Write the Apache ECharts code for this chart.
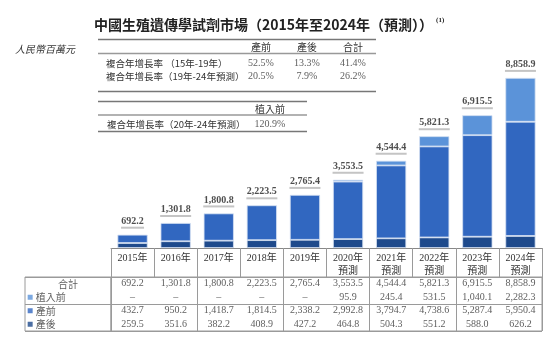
<!DOCTYPE html>
<html><head><meta charset="utf-8">
<script src="https://cdn.jsdelivr.net/npm/echarts@6/dist/echarts.min.js"></script>
<style>html,body{margin:0;padding:0;background:#fff}#c{width:554px;height:343px}</style>
</head><body><div id="c"></div>
<script>
const years = ['2015年','2016年','2017年','2018年','2019年','2020年\n預測','2021年\n預測','2022年\n預測','2023年\n預測','2024年\n預測'];
const preImplant = [null,null,null,null,null,95.9,245.4,531.5,1040.1,2282.3];
const prenatal = [432.7,950.2,1418.7,1814.5,2338.2,2992.8,3794.7,4738.6,5287.4,5950.4];
const postnatal = [259.5,351.6,382.2,408.9,427.2,464.8,504.3,551.2,588.0,626.2];
const totals = [692.2,1301.8,1800.8,2223.5,2765.4,3553.5,4544.4,5821.3,6915.5,8858.9];
const rowLabels = ['合計','植入前','產前','產後'];
const cagrCols = ['產前','產後','合計'];
const cagrRows = ['複合年增長率 （15年-19年）','複合年增長率（19年-24年預測）'];
const cagrVals = [[52.5,13.3,41.4],[20.5,7.9,26.2]];
const cagr2Cols = ['植入前'];
const cagr2Rows = ['複合年增長率（20年-24年預測）'];
const cagr2Vals = [[120.9]];

const C_PRE = '#5b93d9', C_PRN = '#3167c0', C_POST = '#1e4a8c';
const SERIF = "'Liberation Serif','Noto Sans CJK TC',serif";
const CJK = "'Noto Sans CJK TC',sans-serif";
const LINE = '#9a9a9a';

function fmt(v){
  if (v == null) return '–';
  const s = v.toFixed(1).split('.');
  return s[0].replace(/\B(?=(\d{3})+(?!\d))/g, ',') + '.' + s[1];
}

const tableRows = [totals, preImplant, prenatal, postnatal];
const cellData = [];
tableRows.forEach((row, r) => row.forEach((v, c) => cellData.push([c, r, fmt(v)])));

const labelColors = [null, C_PRE, C_PRN, C_POST];
const labelData = rowLabels.map((t, r) => r === 0
  ? { value: [0.5, r, t], symbolSize: 0, label: { position: 'inside' } }
  : { value: [0.06, r, t], symbolSize: 5, symbol: 'rect', itemStyle: { color: labelColors[r] }, label: { position: 'right', distance: 3 } });

const cagrData = [];
cagrVals.forEach((row, r) => row.forEach((v, c) => cagrData.push([c, r, v.toFixed(1) + '%'])));
const cagr2Data = [];
cagr2Vals.forEach((row, r) => row.forEach((v, c) => cagr2Data.push([c, r, v.toFixed(1) + '%'])));

const chart = echarts.init(document.getElementById('c'));
const tableAxisBase = {
  axisLine: { show: false }, axisTick: { show: false }, axisLabel: { show: false },
  splitLine: { show: true, lineStyle: { color: LINE, width: 1 } }
};
const hiddenBase = { axisLine: { show: false }, axisTick: { show: false }, splitLine: { show: false } };

chart.setOption({
  animation: false,
  backgroundColor: '#fff',
  title: [
    { text: '中國生殖遺傳學試劑市場（2015年至2024年（預測））{s|(1)}', left: 89, top: 12,
      textStyle: { fontFamily: CJK, fontSize: 14, fontWeight: 'bold', color: '#222',
        rich: { s: { fontSize: 7, fontFamily: SERIF, verticalAlign: 'top', padding: [0,0,8,3], color: '#222' } } } },
    { text: '人民幣百萬元', left: 10, top: 39,
      textStyle: { fontFamily: CJK, fontSize: 10, fontStyle: 'italic', fontWeight: 'normal', color: '#333' } }
  ],
  graphic: [
    { type: 'line', shape: { x1: 98, y1: 39.5, x2: 376, y2: 39.5 }, style: { stroke: '#777', lineWidth: 1.5 } },
    { type: 'line', shape: { x1: 98, y1: 53.5, x2: 376, y2: 53.5 }, style: { stroke: '#999', lineWidth: 1.5 } },
    { type: 'line', shape: { x1: 98, y1: 91.5, x2: 376, y2: 91.5 }, style: { stroke: '#777', lineWidth: 1.5 } },
    { type: 'line', shape: { x1: 98, y1: 101.5, x2: 307, y2: 101.5 }, style: { stroke: '#777', lineWidth: 1.5 } },
    { type: 'line', shape: { x1: 98, y1: 115, x2: 307, y2: 115 }, style: { stroke: '#999', lineWidth: 1.5 } },
    { type: 'line', shape: { x1: 98, y1: 131.5, x2: 307, y2: 131.5 }, style: { stroke: '#777', lineWidth: 1.5 } }
  ],
  grid: [
    { left: 111, right: 12, top: 56, height: 192 },
    { left: 111, right: 12, top: 277, height: 54, show: true, borderColor: LINE, borderWidth: 1 },
    { left: 25, width: 86, top: 277, height: 54, show: true, borderColor: LINE, borderWidth: 1 },
    { left: 238, width: 138, top: 57, height: 26 },
    { left: 247, width: 46, top: 118, height: 13 }
  ],
  xAxis: [
    { gridIndex: 0, type: 'category', data: years,
      axisLine: { lineStyle: { color: '#888', width: 1 } },
      axisTick: { show: true, length: 29, interval: 0, lineStyle: { color: LINE } },
      axisLabel: { interval: 0, margin: 4, fontFamily: SERIF, fontSize: 10, color: '#333', lineHeight: 13 } },
    Object.assign({ gridIndex: 1, type: 'category', data: years }, tableAxisBase),
    Object.assign({ gridIndex: 2, type: 'value', min: 0, max: 1 }, hiddenBase, { axisLabel: { show: false } }),
    { gridIndex: 3, type: 'category', data: cagrCols, position: 'top', axisLine: { show: false }, axisTick: { show: false },
      axisLabel: { margin: 5, fontFamily: CJK, fontSize: 10, color: '#333' } },
    { gridIndex: 4, type: 'category', data: cagr2Cols, position: 'top', axisLine: { show: false }, axisTick: { show: false },
      axisLabel: { margin: 4, fontFamily: CJK, fontSize: 10, color: '#333' } }
  ],
  yAxis: [
    { gridIndex: 0, type: 'value', min: 0, max: 10000, show: false },
    Object.assign({ gridIndex: 1, type: 'category', data: rowLabels, inverse: true }, tableAxisBase),
    Object.assign({ gridIndex: 2, type: 'category', data: rowLabels, inverse: true }, tableAxisBase),
    { gridIndex: 3, type: 'category', data: cagrRows, inverse: true, axisLine: { show: false }, axisTick: { show: false },
      axisLabel: { align: 'left', margin: 132, fontFamily: CJK, fontSize: 9.5, color: '#333' } },
    { gridIndex: 4, type: 'category', data: cagr2Rows, inverse: true, axisLine: { show: false }, axisTick: { show: false },
      axisLabel: { align: 'left', margin: 140, fontFamily: CJK, fontSize: 9.5, color: '#333' } }
  ],
  series: [
    { name: '產後', type: 'bar', stack: 't', data: postnatal, barWidth: '70%',
      itemStyle: { color: C_POST, borderColor: '#d5e1f3', borderWidth: 0.8 } },
    { name: '產前', type: 'bar', stack: 't', data: prenatal,
      itemStyle: { color: C_PRN, borderColor: '#d5e1f3', borderWidth: 0.8 } },
    { name: '植入前', type: 'bar', stack: 't', data: preImplant,
      itemStyle: { color: C_PRE, borderColor: '#d5e1f3', borderWidth: 0.8 } },
    { type: 'scatter', data: totals, symbolSize: 0, z: 5,
      label: { show: true, position: 'top', distance: 6,
        formatter: p => { const s = fmt(p.value); return '{v|' + s + '}\n{u' + s.length + '|}'; },
        rich: {
          v: { fontFamily: SERIF, fontSize: 10, fontWeight: 'bold', color: '#222', lineHeight: 11 },
          u5: { width: 23, height: 2, backgroundColor: '#b5b5b5' },
          u7: { width: 31, height: 2, backgroundColor: '#b5b5b5' }
        } } },
    { type: 'scatter', xAxisIndex: 1, yAxisIndex: 1, data: cellData, symbolSize: 0,
      label: { show: true, position: 'inside', formatter: p => p.data[2], fontFamily: SERIF, fontSize: 10, color: '#333' } },
    { type: 'scatter', xAxisIndex: 2, yAxisIndex: 2, data: labelData,
      label: { show: true, formatter: p => p.data.value[2], fontFamily: CJK, fontSize: 10, color: '#333' } },
    { type: 'scatter', xAxisIndex: 3, yAxisIndex: 3, data: cagrData, symbolSize: 0,
      label: { show: true, position: 'inside', formatter: p => p.data[2], fontFamily: SERIF, fontSize: 10, color: '#333' } },
    { type: 'scatter', xAxisIndex: 4, yAxisIndex: 4, data: cagr2Data, symbolSize: 0,
      label: { show: true, position: 'inside', formatter: p => p.data[2], fontFamily: SERIF, fontSize: 10, color: '#333' } }
  ]
});
</script></body></html>
